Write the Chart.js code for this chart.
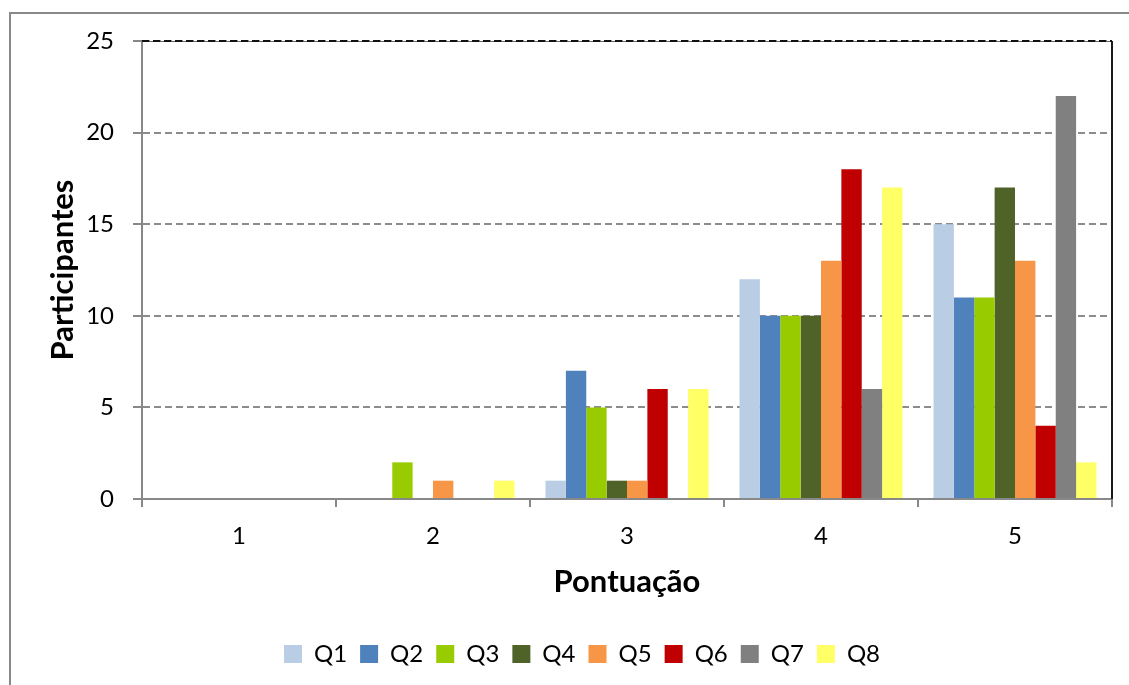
<!DOCTYPE html>
<html>
<head>
<meta charset="utf-8">
<script src="https://cdn.jsdelivr.net/npm/chart.js@4/dist/chart.umd.min.js"></script>
<style>
  html, body { margin: 0; padding: 0; background: #fff; overflow: hidden; }
  #frame { position: absolute; left: 9px; top: 12px; width: 1300px; height: 900px; border: 2px solid #898989; box-sizing: border-box; }
  #wrap { position: absolute; left: 0; top: 0; width: 1129px; height: 685px; }
</style>
</head>
<body>
<div id="frame"></div>
<div id="wrap"><canvas id="c" width="1129" height="685"></canvas></div>
<script>
const categories = ['1', '2', '3', '4', '5'];
const seriesNames = ['Q1', 'Q2', 'Q3', 'Q4', 'Q5', 'Q6', 'Q7', 'Q8'];
const q1 = [0, 0, 1, 12, 15];
const q2 = [0, 0, 7, 10, 11];
const q3 = [0, 2, 5, 10, 11];
const q4 = [0, 0, 1, 10, 17];
const q5 = [0, 1, 1, 13, 13];
const q6 = [0, 0, 6, 18, 4];
const q7 = [0, 0, 0, 6, 22];
const q8 = [0, 1, 6, 17, 2];
const seriesColors = ['#B9CDE5', '#4F81BD', '#99CC00', '#4F6228', '#F79646', '#C00000', '#808080', '#FFFF66'];
const yTicks = [0, 5, 10, 15, 20, 25];
const xTitle = 'Pontuação';
const yTitle = 'Participantes';

const seriesValues = [q1, q2, q3, q4, q5, q6, q7, q8];
const FONT = 'Lato';

const frameLines = {
  id: 'frameLines',
  afterLayout(chart) {
    const lg = chart.legend;
    if (lg) { lg.left += 26; lg.right += 26; }
  },
  afterDatasetsDraw(chart) {
    const a = chart.chartArea;
    const ctx = chart.ctx;
    ctx.save();
    ctx.strokeStyle = '#1a1a1a';
    ctx.lineWidth = 2;
    ctx.beginPath();
    ctx.moveTo(a.right, a.top);
    ctx.lineTo(a.right, a.bottom);
    ctx.stroke();
    ctx.lineWidth = 1;
    ctx.strokeStyle = '#666';
    ctx.beginPath();
    ctx.moveTo(a.left, a.top + 0.5);
    ctx.lineTo(a.right, a.top + 0.5);
    ctx.stroke();
    ctx.strokeStyle = '#111';
    ctx.lineWidth = 2;
    ctx.setLineDash([7, 4]);
    ctx.beginPath();
    ctx.moveTo(a.left, a.top);
    ctx.lineTo(a.right, a.top);
    ctx.stroke();
    ctx.restore();
  }
};

new Chart(document.getElementById('c'), {
  type: 'bar',
  data: {
    labels: categories,
    datasets: seriesNames.map((n, i) => ({
      label: n,
      data: seriesValues[i],
      backgroundColor: seriesColors[i],
      borderWidth: 0,
      categoryPercentage: 0.84,
      barPercentage: 1.0
    }))
  },
  options: {
    responsive: false,
    animation: false,
    devicePixelRatio: 1,
    layout: { padding: { left: 0, right: 17, top: 41, bottom: 9 } },
    plugins: {
      tooltip: { enabled: false },
      legend: {
        position: 'bottom',
        labels: {
          font: { family: FONT, size: 24 },
          color: '#000',
          boxWidth: 18,
          boxHeight: 18,
          padding: 13
        }
      }
    },
    scales: {
      x: {
        afterFit(s) { s.height = 130; },
        grid: {
          display: true,
          drawOnChartArea: false,
          drawTicks: true,
          tickLength: 8,
          color: '#888',
          lineWidth: 2,
          offset: true
        },
        border: { display: true, color: '#888', width: 2 },
        ticks: { font: { family: FONT, size: 24 }, color: '#000', padding: 15 },
        title: {
          display: true,
          text: xTitle,
          font: { family: FONT, size: 31, weight: 'bold' },
          color: '#000',
          padding: { top: 0, bottom: 28 }
        }
      },
      y: {
        min: 0,
        max: 25,
        afterFit(s) { s.width = 142; },
        afterBuildTicks(s) { s.ticks = yTicks.map(v => ({ value: v })); },
        grid: {
          color: (ctx) => (ctx.tick && ctx.tick.value === 0) ? 'rgba(0,0,0,0)' : '#8c8c8c',
          lineWidth: 2,
          drawTicks: true,
          tickLength: 9,
          tickColor: '#888',
          tickBorderDash: [],
          tickWidth: 2
        },
        border: { display: true, color: '#888', width: 2, dash: [7, 4] },
        ticks: { font: { family: FONT, size: 24 }, color: '#000', padding: 19 },
        title: {
          display: true,
          text: yTitle,
          font: { family: FONT, size: 31, weight: 'bold' },
          color: '#000',
          padding: { top: 44, bottom: 0 }
        }
      }
    }
  },
  plugins: [frameLines]
});
</script>
</body>
</html>
